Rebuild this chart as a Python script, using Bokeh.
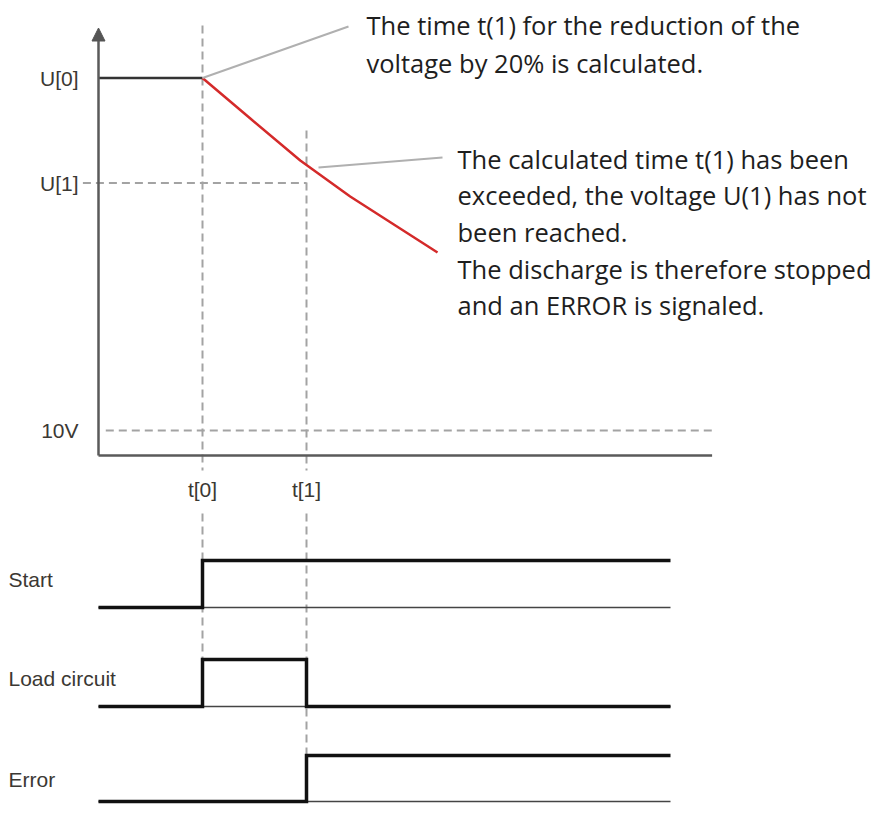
from bokeh.plotting import figure
from bokeh.models import Range1d, Arrow, NormalHead
from bokeh.core.properties import value
from bokeh.embed import file_html
from bokeh.resources import INLINE

# ---------------- data ----------------
time_labels = ["t[0]", "t[1]"]
time_values = [1.0, 2.0]
t_axis_end = 5.9
t_signal_end = 5.5

voltage_labels = ["U[0]", "U[1]", "10V"]
voltage_values = [151.0, 109.0, 10.0]
v_axis_top = 171.0

# discharge curve (red)
curve_t = [1.0, 1.46, 1.94, 2.42, 2.90, 3.26]
curve_u = [151.0, 134.8, 118.0, 103.6, 90.8, 81.2]

# digital signals
start_t = [0.0, 1.0, 1.0, t_signal_end]
start_lv = [0, 0, 1, 1]
load_t = [0.0, 1.0, 1.0, 2.0, 2.0, t_signal_end]
load_lv = [0, 0, 1, 1, 0, 0]
error_t = [0.0, 2.0, 2.0, t_signal_end]
error_lv = [0, 0, 1, 1]
signal_names = ["Start", "Load circuit", "Error"]

note1 = ["The time t(1) for the reduction of the",
         "voltage by 20% is calculated."]
note2 = ["The calculated time t(1) has been",
         "exceeded, the voltage U(1) has not",
         "been reached.",
         "The discharge is therefore stopped",
         "and an ERROR is signaled."]

# ---------------- layout (figure pixels) ----------------
W, H = 876, 805
X_ORIGIN, X_SCALE = 98.0, 104.0      # px of t=0, px per time unit
Y_ORIGIN, Y_SCALE = 455.0, 2.5       # px of 0 V, px per volt
lanes = [(560.0, 607.0), (659.0, 706.0), (755.0, 801.0)]  # (high px, low px)
lane_label_y = [579, 678, 779]

def tx(t):
    return X_ORIGIN + X_SCALE * t

def vy(v):
    return Y_ORIGIN - Y_SCALE * v

p = figure(width=W, height=H, output_backend="svg", toolbar_location=None,
           x_axis_type=None, y_axis_type=None,
           x_range=Range1d(0, W), y_range=Range1d(H, 0),
           min_border=0, outline_line_color=None,
           background_fill_color="white", border_fill_color="white")

p.extra_x_ranges = {"time": Range1d(-X_ORIGIN / X_SCALE, (W - X_ORIGIN) / X_SCALE)}
p.extra_y_ranges = {"volt": Range1d((Y_ORIGIN - H) / Y_SCALE, Y_ORIGIN / Y_SCALE)}
for i, (hi, lo) in enumerate(lanes):
    s = lo - hi
    p.extra_y_ranges[f"lane{i}"] = Range1d((lo - H) / s, lo / s)

DASH_C = "#a3a3a3"
DASH = "8 5"

# vertical dashed time markers (x in time units, y in figure px)
p.segment(x0=[time_values[0]] * 2 + [time_values[1]] * 2,
          y0=[25, 513, 130, 513],
          x1=[time_values[0]] * 2 + [time_values[1]] * 2,
          y1=[470, lanes[1][0], 470, lanes[2][0]],
          x_range_name="time", line_color=DASH_C, line_width=2, line_dash=DASH)

# horizontal dashed levels
p.segment(x0=[-0.15, 0.07], y0=[voltage_values[1], voltage_values[2]],
          x1=[time_values[1], t_axis_end], y1=[voltage_values[1], voltage_values[2]],
          x_range_name="time", y_range_name="volt",
          line_color=DASH_C, line_width=2, line_dash=DASH)

# axes
p.segment(x0=[0], y0=[0], x1=[t_axis_end], y1=[0], x_range_name="time", y_range_name="volt",
          line_color="#5a5a5a", line_width=2.5)
p.add_layout(Arrow(end=NormalHead(size=13, fill_color="#555555", line_color="#555555"),
                   x_start=0, y_start=0, x_end=0, y_end=v_axis_top,
                   x_range_name="time", y_range_name="volt",
                   line_color="#5a5a5a", line_width=2.5))

# voltage trace
p.line(x=[0, time_values[0]], y=[voltage_values[0], voltage_values[0]],
       x_range_name="time", y_range_name="volt", line_color="#333333", line_width=2.5)
p.line(x=curve_t, y=curve_u, x_range_name="time", y_range_name="volt",
       line_color="#d42a2a", line_width=2.5, line_join="round")

# leader lines
p.segment(x0=[tx(time_values[0]), 318], y0=[vy(voltage_values[0]), 167],
          x1=[348, 442], y1=[26, 157], line_color="#b0b0b0", line_width=2)

# digital signals
for i, (ts, lv) in enumerate([(start_t, start_lv), (load_t, load_lv), (error_t, error_lv)]):
    rn = f"lane{i}"
    p.line(x=[0, t_signal_end], y=[0, 0], x_range_name="time", y_range_name=rn,
           line_color="#444444", line_width=1.5)
    p.line(x=ts, y=lv, x_range_name="time", y_range_name=rn,
           line_color="#111111", line_width=3.5, line_join="miter")

LBL_FONT = value("Liberation Sans")
LBL_C = "#3b3833"

# voltage tick labels
p.text(x=[0] * 3, y=voltage_values, text=voltage_labels, x_offset=-20,
       x_range_name="time", y_range_name="volt",
       text_font=LBL_FONT, text_font_size="21px", text_color=LBL_C,
       text_align="right", text_baseline="middle")
# time tick labels
p.text(x=time_values, y=[489] * 2, text=time_labels, x_range_name="time",
       text_font=LBL_FONT, text_font_size="21px", text_color=LBL_C,
       text_align="center", text_baseline="middle")
# signal names
p.text(x=[8] * 3, y=lane_label_y, text=signal_names,
       text_font=LBL_FONT, text_font_size="21px", text_color=LBL_C,
       text_align="left", text_baseline="middle")

# annotation notes
NOTE_FONT = value("Open Sans")
p.text(x=[366] * 2, y=[24, 62], text=note1,
       text_font=NOTE_FONT, text_font_size="25.5px", text_color="#1e1e1e",
       text_align="left", text_baseline="alphabetic")
p.text(x=[457] * 5, y=[158, 194, 231, 268, 304], text=note2,
       text_font=NOTE_FONT, text_font_size="25.5px", text_color="#1e1e1e",
       text_align="left", text_baseline="alphabetic")

open("out.html", "w").write(file_html(p, INLINE))
